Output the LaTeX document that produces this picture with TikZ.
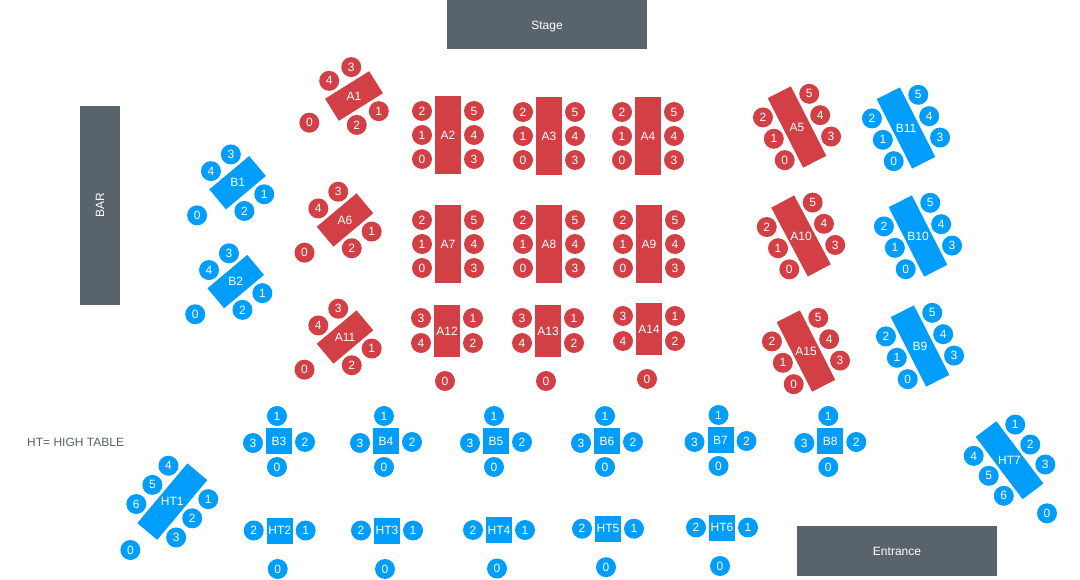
\documentclass[tikz,border=0pt]{standalone}
\usepackage{fontspec}
\setmainfont{Liberation Sans}
\definecolor{cred}{RGB}{210,64,69}
\definecolor{cblue}{RGB}{0,158,250}
\definecolor{cgrey}{RGB}{89,99,107}
\tikzset{
  seat/.style={circle,minimum size=20pt,inner sep=0pt,text=white,font=\fontsize{12}{14}\selectfont},
  tlabel/.style={inner sep=0pt,text=white,font=\fontsize{12}{14}\selectfont},
  sqtab/.style={minimum width=26pt,minimum height=26pt,inner sep=0pt,text=white,font=\fontsize{12}{14}\selectfont},
  block/.style={fill=cgrey,inner sep=0pt,text=white,font=\fontsize{12}{14}\selectfont}
}
% six-seat table: name, x, y, angle, colour
\newcommand{\sixtab}[5]{%
\begin{scope}[shift={(#2,-#3)},rotate=#4]
\fill[#5] (-13,-39) rectangle (13,39);
\node[tlabel] (#1) at (0,0) {#1};
\node[seat,fill=#5] (#1s2) at (-26,24) {2};
\node[seat,fill=#5] (#1s1) at (-26,0) {1};
\node[seat,fill=#5] (#1s0) at (-26,-24) {0};
\node[seat,fill=#5] (#1s5) at (26,24) {5};
\node[seat,fill=#5] (#1s4) at (26,0) {4};
\node[seat,fill=#5] (#1s3) at (26,-24) {3};
\end{scope}}
% four-seat tilted table: name, x, y, angle, colour
\newcommand{\fourtilt}[5]{%
\begin{scope}[shift={(#2,-#3)},rotate=#4]
\fill[#5] (-26,-13) rectangle (26,13);
\node[tlabel] (#1) at (0,0) {#1};
\node[seat,fill=#5] (#1s3) at (13,26) {3};
\node[seat,fill=#5] (#1s4) at (-13,26) {4};
\node[seat,fill=#5] (#1s1) at (13,-26) {1};
\node[seat,fill=#5] (#1s2) at (-13,-26) {2};
\node[seat,fill=#5] (#1s0) at (-52,1) {0};
\end{scope}}
% four-seat straight table: name, x, y
\newcommand{\fourstr}[3]{%
\begin{scope}[shift={(#2,-#3)}]
\fill[cred] (-13,-26) rectangle (13,26);
\node[tlabel] (#1) at (0,0) {#1};
\node[seat,fill=cred] (#1s3) at (-26,13) {3};
\node[seat,fill=cred] (#1s4) at (-26,-12) {4};
\node[seat,fill=cred] (#1s1) at (26,13) {1};
\node[seat,fill=cred] (#1s2) at (26,-12) {2};
\node[seat,fill=cred] (#1s0) at (-2,-50) {0};
\end{scope}}
% square table B: name, x, y
\newcommand{\sqb}[3]{%
\node[sqtab,fill=cblue] (#1) at (#2,-#3) {#1};
\node[seat,fill=cblue] (#1s1) at ([shift={(-2,25)}]#1.center) {1};
\node[seat,fill=cblue] (#1s3) at ([shift={(-26,-2)}]#1.center) {3};
\node[seat,fill=cblue] (#1s2) at ([shift={(26,-1)}]#1.center) {2};
\node[seat,fill=cblue] (#1s0) at ([shift={(-2,-26)}]#1.center) {0};}
% high table: name, x, y
\newcommand{\hts}[3]{%
\node[sqtab,fill=cblue] (#1) at (#2,-#3) {#1};
\node[seat,fill=cblue] (#1s2) at ([shift={(-26,0)}]#1.center) {2};
\node[seat,fill=cblue] (#1s1) at ([shift={(26,0)}]#1.center) {1};
\node[seat,fill=cblue] (#1s0) at ([shift={(-2,-38.5)}]#1.center) {0};}
\begin{document}
\begin{tikzpicture}[x=1pt,y=1pt]
\useasboundingbox[fill=white] (0,0) rectangle (1080,-580);
% fixed blocks
\node[block,minimum width=200pt,minimum height=49pt] (stage) at (547,-24.5) {};
\node[text=white,inner sep=0pt,text depth=0pt,font=\fontsize{12}{14}\selectfont] (stagetxt) at (547,-25) {Stage};
\node[block,minimum width=40pt,minimum height=199pt] (bar) at (100,-205.5) {};
\node[text=white,rotate=90,inner sep=0pt,font=\fontsize{12}{14}\selectfont] (bartxt) at (bar.center) {BAR};
\node[block,minimum width=200pt,minimum height=50pt] (entrance) at (897,-551) {Entrance};
\node[anchor=west,inner sep=0pt,text=cgrey,font=\fontsize{12}{14}\selectfont] (legend) at (27,-442) {HT= HIGH TABLE};
% red straight six-seat tables
\sixtab{A2}{448}{135}{0}{cred}
\sixtab{A3}{549}{136}{0}{cred}
\sixtab{A4}{648}{136}{0}{cred}
\sixtab{A7}{448}{244}{0}{cred}
\sixtab{A8}{549}{244}{0}{cred}
\sixtab{A9}{649}{244}{0}{cred}
% tilted six-seat tables
\sixtab{A5}{797}{127}{27}{cred}
\sixtab{A10}{801}{236}{28}{cred}
\sixtab{A15}{806}{351}{27}{cred}
\sixtab{B11}{906}{128}{27}{cblue}
\sixtab{B10}{918}{236}{27}{cblue}
\sixtab{B9}{920}{346}{27}{cblue}
% tilted four-seat tables
\fourtilt{A1}{354}{96}{32}{cred}
\fourtilt{A6}{345}{220}{40}{cred}
\fourtilt{A11}{345}{337}{40}{cred}
\fourtilt{B1}{237.6}{182.7}{40}{cblue}
\fourtilt{B2}{235.7}{281.6}{40}{cblue}
% straight four-seat tables
\fourstr{A12}{447}{331}
\fourstr{A13}{548}{331}
\fourstr{A14}{649}{329}
% square B tables
\sqb{B3}{279}{441}
\sqb{B4}{386}{441}
\sqb{B5}{496}{441}
\sqb{B6}{607}{441}
\sqb{B7}{720.5}{440}
\sqb{B8}{830.3}{441}
% high tables
\hts{HT2}{279.7}{530.5}
\hts{HT3}{387}{530.5}
\hts{HT4}{499}{530}
\hts{HT5}{608}{528.7}
\hts{HT6}{722}{527.5}
% HT1
\begin{scope}[shift={(172.3,-501.6)},rotate=50]
\fill[cblue] (-39,-13) rectangle (39,13);
\node[tlabel] (HT1) at (0,0) {HT1};
\node[seat,fill=cblue] (HT1s4) at (25,26) {4};
\node[seat,fill=cblue] (HT1s5) at (0,26) {5};
\node[seat,fill=cblue] (HT1s6) at (-25,26) {6};
\node[seat,fill=cblue] (HT1s1) at (25,-26) {1};
\node[seat,fill=cblue] (HT1s2) at (0,-26) {2};
\node[seat,fill=cblue] (HT1s3) at (-25,-26) {3};
\node[seat,fill=cblue] (HT1s0) at (-64,1) {0};
\end{scope}
% HT7
\begin{scope}[shift={(1009.5,-460.2)},rotate=37]
\fill[cblue] (-13,-39) rectangle (13,39);
\node[tlabel] (HT7) at (0,0) {HT7};
\node[seat,fill=cblue] (HT7s1) at (26,25) {1};
\node[seat,fill=cblue] (HT7s2) at (26,0) {2};
\node[seat,fill=cblue] (HT7s3) at (26,-25) {3};
\node[seat,fill=cblue] (HT7s4) at (-26,25) {4};
\node[seat,fill=cblue] (HT7s5) at (-26,0) {5};
\node[seat,fill=cblue] (HT7s6) at (-26,-25) {6};
\node[seat,fill=cblue] (HT7s0) at (-2,-65) {0};
\end{scope}
\end{tikzpicture}
\end{document}
